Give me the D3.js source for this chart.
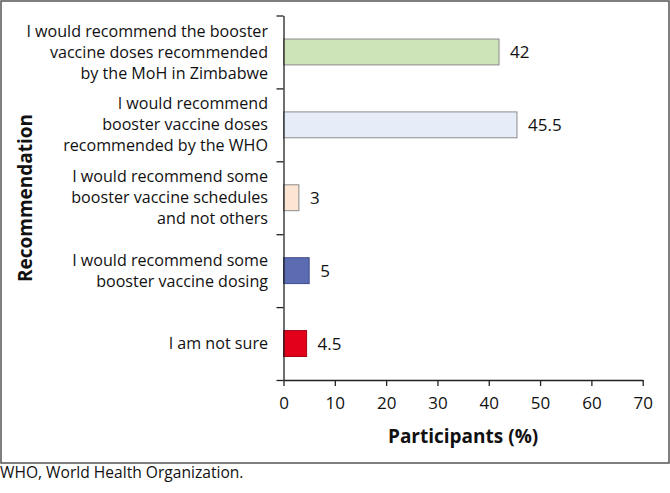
<!DOCTYPE html>
<html><head><meta charset="utf-8">
<script src="https://cdn.jsdelivr.net/npm/d3@7"></script>
<style>body{margin:0;background:#fff}svg{display:block}text{font-family:"Open Sans",sans-serif;fill:#111}</style>
</head><body>
<script>
const categories = [
  ["I would recommend the booster", "vaccine doses recommended", "by the MoH in Zimbabwe"],
  ["I would recommend", "booster vaccine doses", "recommended by the WHO"],
  ["I would recommend some", "booster vaccine schedules", "and not others"],
  ["I would recommend some", "booster vaccine dosing"],
  ["I am not sure"]
];
const values = [42, 45.5, 3, 5, 4.5];
const valueLabels = ["42", "45.5", "3", "5", "4.5"];
const barColors = ["#cde3b8", "#e6edf8", "#fde5d3", "#5b6cb2", "#e2001a"];
const barStrokes = ["#8a8a8a", "#8a8a8a", "#8a8a8a", "#3e4c8a", "#a30012"];
const xTicks = [0, 10, 20, 30, 40, 50, 60, 70];

const W = 670, H = 493;
const svg = d3.select("body").append("svg").attr("width", W).attr("height", H);

svg.append("rect").attr("x", 1).attr("y", 1).attr("width", 668).attr("height", 462)
  .attr("fill", "none").attr("stroke", "#555").attr("stroke-width", 1.5);

const pL = 283.5, pR = 642.7, pT = 15.5, pB = 380;
const x = d3.scaleLinear().domain([0, 70]).range([pL, pR]);
const yb = d3.scaleBand().domain(d3.range(categories.length)).range([pT, pB])
  .paddingInner(0.645).paddingOuter(0.3225);
const yl = d3.scaleLinear().domain([0, categories.length]).range([pT, pB]);

// bars
svg.selectAll("rect.bar").data(values).join("rect").attr("class", "bar")
  .attr("x", x(0)).attr("y", (d, i) => yb(i)).attr("width", d => x(d) - x(0))
  .attr("height", yb.bandwidth())
  .attr("fill", (d, i) => barColors[i]).attr("stroke", (d, i) => barStrokes[i]).attr("stroke-width", 1);

// value labels
svg.selectAll("text.val").data(values).join("text").attr("class", "val")
  .attr("x", d => x(d) + 11).attr("y", (d, i) => yb(i) + yb.bandwidth() / 2)
  .attr("dy", "0.35em").style("font-size", "17px").text((d, i) => valueLabels[i]);

// y axis
const yAxis = svg.append("g").attr("transform", `translate(${pL},0)`)
  .call(d3.axisLeft(yl).ticks(5).tickFormat("").tickSize(7).tickSizeOuter(0));
yAxis.select(".domain").attr("stroke", "#222").attr("stroke-width", 1.3);
yAxis.selectAll(".tick line").attr("stroke", "#222").attr("stroke-width", 1.3);

// x axis
const xAxis = svg.append("g").attr("transform", `translate(0,${pB})`)
  .call(d3.axisBottom(x).tickValues(xTicks).tickSize(6).tickSizeOuter(0).tickPadding(11));
xAxis.select(".domain").attr("stroke", "#222").attr("stroke-width", 1.3);
xAxis.selectAll(".tick line").attr("stroke", "#222").attr("stroke-width", 1.3);
xAxis.selectAll(".tick text").style("font-size", "17px").style("font-family", '"Open Sans",sans-serif').attr("fill", "#111");

// category labels
const lh = 21;
categories.forEach((lines, i) => {
  const cy = yb(i) + yb.bandwidth() / 2;
  const t = svg.append("text").attr("text-anchor", "end").style("font-size", "16.1px");
  lines.forEach((ln, j) => {
    t.append("tspan").attr("x", 268).attr("y", cy + (j - (lines.length - 1) / 2) * lh).attr("dy", "0.35em").text(ln);
  });
});

// axis titles
svg.append("text").attr("x", (pL + pR) / 2).attr("y", 443).attr("text-anchor", "middle")
  .style("font-size", "19px").style("font-weight", "bold").text("Participants (%)");
svg.append("text").attr("transform", "translate(32,198) rotate(-90)").attr("text-anchor", "middle")
  .style("font-size", "19px").style("font-weight", "bold").text("Recommendation");

// footnote
svg.append("text").attr("x", 0).attr("y", 478).style("font-size", "15.6px").text("WHO, World Health Organization.");
</script>
</body></html>
